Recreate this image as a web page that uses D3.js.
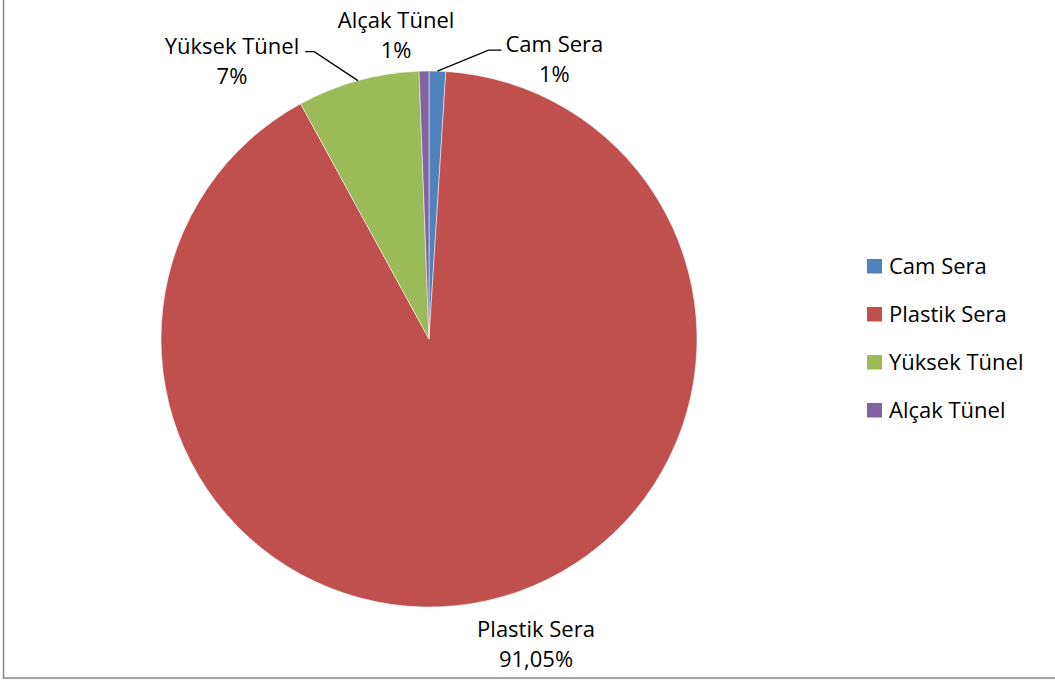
<!DOCTYPE html>
<html>
<head>
<meta charset="utf-8">
<script src="https://cdn.jsdelivr.net/npm/d3@7"></script>
<style>
  body { margin: 0; background: #fff; }
  text { font-family: "Open Sans", "Liberation Sans", sans-serif; fill: #000; }
</style>
</head>
<body>
<div id="chart"></div>
<script>
// Data
var categories = ["Cam Sera", "Plastik Sera", "Yüksek Tünel", "Alçak Tünel"];
var values = [1.0, 91.05, 7.36, 0.59];
var valueLabels = ["1%", "91,05%", "7%", "1%"];
var colors = ["#4F81BD", "#C0504D", "#9BBB59", "#8064A2"];

function init() {
    var w = 1055, h = 680;
    var cx = 429, cy = 339, radius = 268;
    var fontSize = "22px";

    var svg = d3.select("#chart").append("svg")
        .attr("width", w).attr("height", h);

    // chart border
    svg.append("rect")
        .attr("x", 3.5).attr("y", -2)
        .attr("width", w + 10).attr("height", 680)
        .attr("fill", "none")
        .attr("stroke", "#878787")
        .attr("stroke-width", 1.5);

    var pie = d3.pie().sort(null).value(function(d) { return d; });
    var arcs = pie(values);

    var arc = d3.arc().innerRadius(0).outerRadius(radius);

    var g = svg.append("g").attr("transform", "translate(" + cx + "," + cy + ")");

    g.selectAll("path.slice")
        .data(arcs)
        .enter().append("path")
        .attr("class", "slice")
        .attr("d", arc)
        .attr("fill", function(d, i) { return colors[i]; })
        .attr("stroke", "#fff")
        .attr("stroke-width", 0.5);

    // label placement relative to slice middle on the rim (Excel best-fit style)
    // dx, dy: offset of label baseline centre from the rim point
    var labelOffsets = [
        { dx: 117, dy: -19, leader: true, side: "right" },
        { dx: 0, dy: 0, leader: false },
        { dx: -126, dy: -27, leader: true, side: "left" },
        { dx: -28, dy: -43, leader: false }
    ];

    arcs.forEach(function(d, i) {
        var mid = (d.startAngle + d.endAngle) / 2;
        var px = Math.sin(mid) * radius, py = -Math.cos(mid) * radius;
        var o = labelOffsets[i];
        var lx = px + o.dx, ly = py + o.dy;
        if (i === 1) {
            // large slice: label below the pie
            lx = 107; ly = radius + 30;
        }
        var t = g.append("text")
            .attr("text-anchor", "middle")
            .attr("font-size", fontSize);
        t.append("tspan").attr("x", lx).attr("y", ly).text(categories[i]);
        t.append("tspan").attr("x", lx).attr("y", ly + 30).text(valueLabels[i]);

        if (o.leader) {
            var bb = t.node().getBBox();
            var ex = o.side === "right" ? bb.x - 4 : bb.x + bb.width + 6;
            var ey = ly - 2;
            var kx = o.side === "right" ? ex - 13 : ex + 9;
            g.append("polyline")
                .attr("points", [[px, py], [kx, ey], [ex, ey]].map(function(p) { return p.join(","); }).join(" "))
                .attr("fill", "none")
                .attr("stroke", "#000")
                .attr("stroke-width", 1.3);
        }
    });

    // legend
    var legend = svg.append("g").attr("transform", "translate(867,259)");
    var row = legend.selectAll("g.item")
        .data(categories)
        .enter().append("g")
        .attr("class", "item")
        .attr("transform", function(d, i) { return "translate(0," + (i * 48) + ")"; });
    row.append("rect")
        .attr("width", 15).attr("height", 14.5)
        .attr("fill", function(d, i) { return colors[i]; });
    row.append("text")
        .attr("x", 22).attr("y", 14.5)
        .attr("font-size", fontSize)
        .text(function(d) { return d; });
}

window.onload = init;
</script>
</body>
</html>
